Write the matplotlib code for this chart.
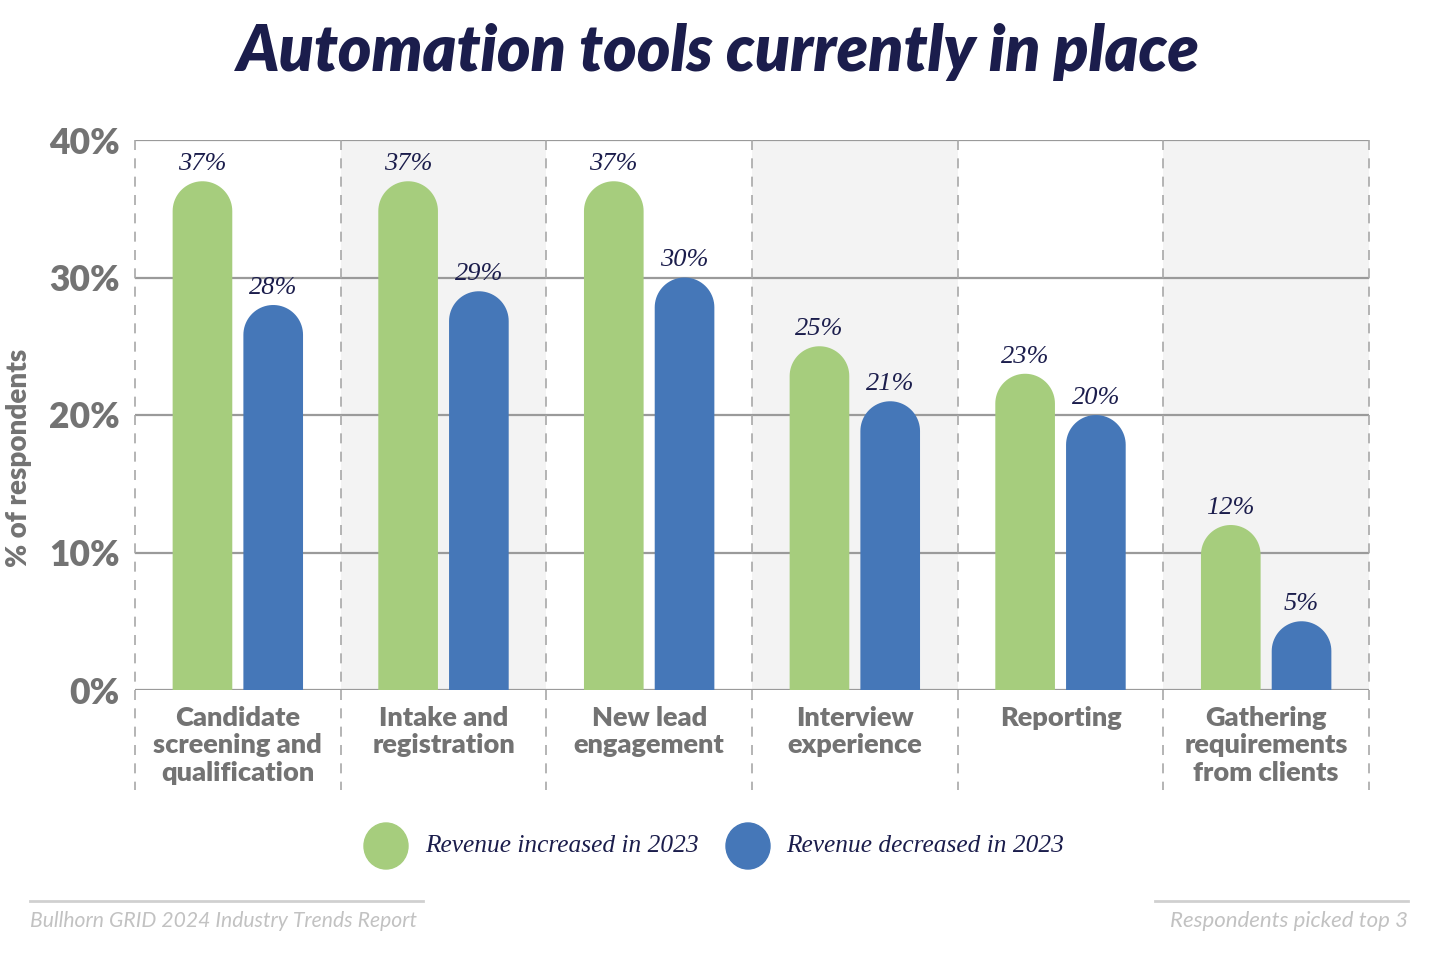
import matplotlib
matplotlib.use('Agg')
import numpy as np
import matplotlib.pyplot as plt
from matplotlib.patches import Ellipse, Rectangle, PathPatch
from matplotlib.path import Path
from matplotlib.lines import Line2D

categories = ['Candidate\nscreening and\nqualification', 'Intake and\nregistration', 'New lead\nengagement',
              'Interview\nexperience', 'Reporting', 'Gathering\nrequirements\nfrom clients']
increased = [37, 37, 37, 25, 23, 12]
decreased = [28, 29, 30, 21, 20, 5]
series_names = ['Revenue increased in 2023', 'Revenue decreased in 2023']
yticks = [0, 10, 20, 30, 40]

GREEN = '#a6cd7d'
BLUE = '#4577b8'
NAVY = '#1b1d4c'
GREY = '#737373'
SANS = 'Lato'
SERIF = 'Liberation Serif'

W, H = 1440, 956
fig = plt.figure(figsize=(W / 100, H / 100), dpi=100)
ax_l, ax_r, ax_t, ax_b = 135, 1369, 140, 690
ax = fig.add_axes([ax_l / W, 1 - ax_b / H, (ax_r - ax_l) / W, (ax_b - ax_t) / H])
ax.set_xlim(-0.5, len(categories) - 0.5)
ax.set_ylim(0, 40)
for s in ax.spines.values():
    s.set_visible(False)

# shaded columns
for i in range(len(categories)):
    if i % 2 == 1:
        ax.add_patch(Rectangle((i - 0.5, 0), 1, 40, color='#f3f3f3', zorder=0, lw=0))

# gridlines
for y in yticks:
    ax.axhline(y, color='#9a9a9a', lw=1.6, zorder=1)

# dashed separators (extend below axis)
px_per_unit_y = (ax_b - ax_t) / 40
y_low = -(790 - ax_b) / px_per_unit_y
for i in range(len(categories) + 1):
    ax.plot([i - 0.5, i - 0.5], [40, y_low], color='#a8a8a8', lw=1.2, ls=(0, (6, 5)),
            clip_on=False, zorder=1)

# rounded bars: one path per bar (rect + semicircle cap)
bar_w = 0.29
off = 0.172
px_per_unit_x = (ax_r - ax_l) / len(categories)
r_y = (bar_w * px_per_unit_x / 2) / px_per_unit_y
theta = np.linspace(np.pi, 0, 40)


def rounded_bar(x, v, col):
    rx = bar_w / 2
    cy = v - r_y
    verts = [(x - rx, 0), (x - rx, cy)]
    verts += [(x + rx * np.cos(t), cy + r_y * np.sin(t)) for t in theta]
    verts += [(x + rx, 0), (x - rx, 0)]
    codes = [Path.MOVETO] + [Path.LINETO] * (len(verts) - 2) + [Path.CLOSEPOLY]
    ax.add_patch(PathPatch(Path(verts, codes), facecolor=col, lw=0, zorder=2))


for vals, sign, col in [(increased, -1, GREEN), (decreased, 1, BLUE)]:
    xs = [i + sign * off for i in range(len(vals))]
    for x, v in zip(xs, vals):
        rounded_bar(x, v, col)
        ax.text(x, v + 0.45, f'{v}%', ha='center', va='bottom', fontsize=19, style='italic',
                family=SERIF, color=NAVY, zorder=3)

# y ticks
ax.set_yticks(yticks)
ax.set_yticklabels([f'{y}%' for y in yticks], fontsize=25.5, fontweight='heavy', family=SANS, color=GREY)
ax.tick_params(axis='y', length=0, pad=11)
ax.set_xticks([])

# category labels
for i, c in enumerate(categories):
    ax.text(i, -1.15, c, ha='center', va='top', fontsize=19.5, fontweight='heavy', family=SANS,
            color=GREY, linespacing=1.17)

fig.text(19 / W, 1 - 458 / H, '% of respondents', rotation=90, ha='center', va='center',
         fontsize=20, fontweight='heavy', family=SANS, color=GREY)

fig.text(718 / W, 1 - 52 / H, 'Automation tools currently in place', ha='center', va='center',
         fontsize=46, fontweight='heavy', style='italic', family=SANS, color=NAVY)

# legend
for cx, tx, name, col in [(386, 425, series_names[0], GREEN), (748, 786, series_names[1], BLUE)]:
    fig.add_artist(Ellipse((cx / W, 1 - 846 / H), 44 / W, 46 / H, transform=fig.transFigure, color=col))
    fig.text(tx / W, 1 - 846 / H, name, ha='left', va='center', fontsize=18.3, style='italic',
             family=SERIF, color=NAVY)

# footer
fig.add_artist(Line2D([30 / W, 423 / W], [1 - 901 / H] * 2, color='#d0d0d0', lw=2, transform=fig.transFigure))
fig.add_artist(Line2D([1155 / W, 1408 / W], [1 - 901 / H] * 2, color='#d0d0d0', lw=2, transform=fig.transFigure))
fig.text(30 / W, 1 - 921 / H, 'Bullhorn GRID 2024 Industry Trends Report', ha='left', va='center',
         fontsize=15.2, style='italic', family=SANS, color='#c2c2c2')
fig.text(1408 / W, 1 - 921 / H, 'Respondents picked top 3', ha='right', va='center',
         fontsize=16, style='italic', family=SANS, color='#c2c2c2')

fig.savefig('out.png', dpi=100)
